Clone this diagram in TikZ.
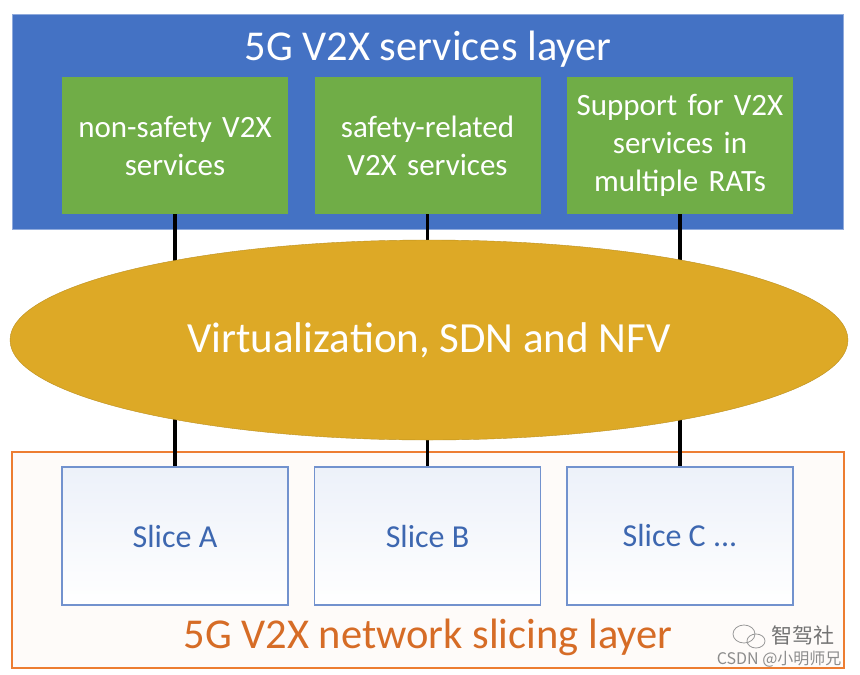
\documentclass[tikz,border=0pt]{standalone}
\usepackage{fontspec}
\setmainfont{Carlito}
\newfontfamily\cjk{Noto Sans CJK SC}
\usetikzlibrary{positioning,shapes.geometric}
\definecolor{layerblue}{RGB}{68,114,196}
\definecolor{boxgreen}{RGB}{112,173,71}
\definecolor{virtgold}{RGB}{221,169,38}
\definecolor{sliceorange}{RGB}{237,125,49}
\definecolor{slicetext}{RGB}{214,108,38}
\definecolor{sliceblue}{RGB}{114,146,206}
\tikzset{
  svcbox/.style={rectangle,fill=boxgreen,text=white,minimum width=226pt,minimum height=137pt,
    text width=215pt,align=center,font=\fontsize{31}{38}\selectfont},
  slicebox/.style={rectangle,draw=sliceblue,line width=1.2pt,top color=layerblue!10,bottom color=white,
    minimum width=226pt,minimum height=138pt,text=layerblue!90!black,font=\fontsize{32}{38}\selectfont},
  link/.style={line width=3.5pt,black}
}
\begin{document}
\begin{tikzpicture}[x=1pt,y=-1pt]
\useasboundingbox[fill=white] (0,0) rectangle (860,675);
\node[rectangle,fill=layerblue,draw=layerblue!60,minimum width=831pt,minimum height=215pt] (svclayer) at (427.5,121.5) {};
\node[anchor=base,text=white,font=\fontsize{42.5}{50}\selectfont] (svctitle) at (428,60) {5G V2X services layer};
\node[svcbox] (nonsafe) at (175,145.5) {non-safety V2X\\services};
\node[svcbox] (safe) at (427.5,145.5) {safety-related\\V2X services};
\node[svcbox] (multirat) at (680,145.5) {Support for V2X\\services in\\multiple RATs};
\node[rectangle,draw=sliceorange,line width=1.2pt,fill=sliceorange!3,minimum width=832pt,minimum height=216pt] (slicelayer) at (428,560) {};
\node[slicebox] (slicea) at (175,536) {Slice A};
\node[slicebox] (sliceb) at (427.5,536) {Slice B};
\node[slicebox] (slicec) at (680,536) {Slice C ...};
\node[anchor=base,text=slicetext,font=\fontsize{42.5}{50}\selectfont] (slicetitle) at (428,648) {5G V2X network slicing layer};
\path[link] (nonsafe) edge (slicea) (safe) edge (sliceb) (multirat) edge (slicec);
\node[ellipse,fill=virtgold,draw=virtgold!85!black,minimum width=838pt,minimum height=200pt,inner sep=0pt,
  text=white,font=\fontsize{43}{50}\selectfont] (virt) at (429,340) {Virtualization, SDN and NFV};
\node[anchor=base west,text=black!55,font=\cjk\fontsize{21}{24}\selectfont] (wmark) at (768,643) {智驾社};
\node[anchor=base east,text=black!45,font=\cjk\fontsize{16}{18}\selectfont] (wcsdn) at (845,664) {CSDN @小明师兄};
\draw[black!40,line width=0.8pt] (744,634) ellipse (11pt and 9pt) (756,641) ellipse (9pt and 7pt);
\end{tikzpicture}
\end{document}
